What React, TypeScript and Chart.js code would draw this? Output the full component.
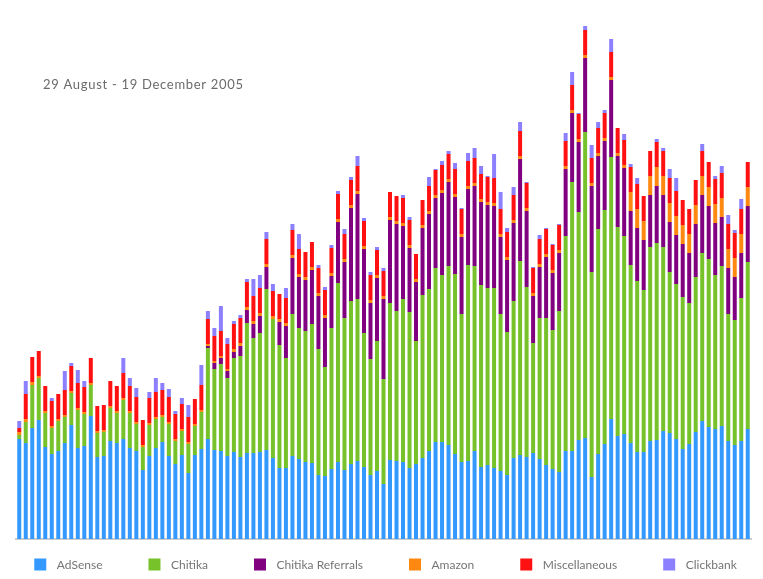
import React, { useEffect, useRef } from "react";
import { Chart, registerables } from "chart.js";

Chart.register(...registerables);

const title = "29 August - 19 December 2005";

const monthNames = ["Jan", "Feb", "Mar", "Apr", "May", "Jun", "Jul", "Aug", "Sep", "Oct", "Nov", "Dec"];
const days: string[] = [];
for (let d = new Date(2005, 7, 29); d <= new Date(2005, 11, 19); d.setDate(d.getDate() + 1)) {
  days.push(d.getDate() + " " + monthNames[d.getMonth()]);
}

const seriesNames = ["AdSense", "Chitika", "Chitika Referrals", "Amazon", "Miscellaneous", "Clickbank"];
const seriesColors = ["#3399ff", "#77c22a", "#800080", "#ff8811", "#ff1111", "#8c80ff"];

const adsense = [
  100, 96, 111, 119, 92, 85, 88, 96, 114, 91,
  93, 123, 82, 83, 98, 96, 100, 91, 88, 69,
  83, 91, 97, 83, 75, 84, 66, 84, 90, 100,
  89, 88, 83, 87, 82, 86, 86, 87, 89, 81,
  71, 71, 83, 80, 77, 76, 64, 63, 70, 77,
  69, 75, 78, 72, 64, 68, 55, 79, 78, 77,
  71, 75, 81, 88, 97, 97, 94, 85, 77, 78,
  88, 72, 74, 71, 68, 64, 81, 84, 82, 86,
  80, 74, 70, 67, 88, 88, 99, 101, 62, 85,
  95, 120, 103, 105, 96, 87, 87, 98, 99, 108,
  106, 100, 90, 95, 107, 118, 112, 110, 113, 98,
  94, 98, 110,
];

const chitika = [
  4, 21, 43, 42, 34, 26, 30, 26, 32, 38,
  32, 31, 24, 24, 33, 30, 39, 35, 27, 23,
  31, 29, 25, 32, 23, 24, 29, 29, 37, 91,
  81, 87, 78, 94, 101, 130, 115, 119, 161, 139,
  123, 110, 142, 131, 131, 139, 126, 109, 141, 179,
  152, 163, 162, 134, 116, 130, 105, 157, 150, 163,
  156, 123, 163, 162, 174, 167, 179, 180, 148, 196,
  185, 182, 177, 180, 157, 143, 157, 194, 170, 110,
  141, 147, 139, 161, 215, 269, 228, 306, 205, 225,
  234, 262, 209, 198, 178, 171, 162, 194, 197, 184,
  161, 155, 152, 141, 155, 168, 168, 154, 160, 127,
  125, 143, 167,
];

const referrals = [
  0, 0, 0, 0, 0, 0, 0, 0, 0, 0,
  0, 0, 0, 0, 0, 0, 0, 0, 0, 0,
  0, 0, 0, 0, 0, 0, 0, 0, 0, 2,
  6, 6, 7, 6, 10, 13, 14, 17, 22, 0,
  23, 32, 56, 51, 51, 54, 53, 49, 52, 61,
  56, 93, 105, 84, 56, 63, 80, 83, 87, 73,
  64, 59, 67, 75, 70, 82, 84, 77, 77, 76,
  80, 83, 83, 82, 77, 72, 78, 102, 76, 47,
  51, 61, 57, 58, 67, 69, 70, 74, 86, 73,
  69, 77, 71, 68, 54, 53, 50, 52, 57, 52,
  50, 49, 53, 50, 53, 58, 53, 52, 49, 46,
  43, 45, 56,
];

const amazon = [
  3, 3, 3, 2, 2, 2, 2, 2, 2, 2,
  2, 2, 2, 2, 2, 2, 2, 2, 2, 2,
  2, 2, 2, 2, 2, 2, 2, 2, 2, 2,
  2, 2, 2, 3, 3, 3, 3, 3, 3, 3,
  3, 3, 3, 3, 3, 3, 3, 3, 3, 3,
  3, 3, 3, 3, 3, 3, 3, 3, 3, 3,
  3, 3, 3, 3, 3, 3, 3, 3, 3, 3,
  3, 3, 3, 3, 3, 3, 3, 3, 3, 3,
  3, 3, 3, 3, 3, 3, 3, 3, 3, 3,
  3, 3, 3, 3, 19, 19, 19, 19, 19, 19,
  19, 19, 19, 19, 19, 19, 19, 19, 19, 19,
  19, 19, 19,
];

const misc = [
  4, 25, 25, 25, 25, 25, 25, 25, 25, 25,
  25, 25, 25, 25, 25, 25, 25, 25, 25, 25,
  25, 25, 25, 25, 25, 25, 25, 25, 25, 25,
  25, 25, 25, 25, 25, 25, 25, 25, 25, 25,
  25, 25, 25, 25, 25, 25, 25, 25, 25, 25,
  25, 25, 25, 25, 25, 25, 25, 25, 25, 25,
  25, 25, 25, 25, 25, 25, 25, 25, 25, 25,
  25, 25, 25, 25, 25, 25, 25, 25, 25, 25,
  25, 25, 25, 25, 25, 25, 25, 25, 25, 25,
  25, 25, 25, 25, 25, 25, 25, 25, 25, 25,
  25, 25, 25, 25, 25, 25, 25, 25, 25, 25,
  25, 25, 25,
];

const clickbank = [
  7, 13, 0, 0, 0, 3, 0, 19, 3, 13,
  6, 0, 0, 0, 0, 0, 15, 8, 9, 0,
  6, 14, 7, 8, 3, 6, 12, 0, 20, 8,
  8, 25, 6, 3, 3, 3, 17, 13, 7, 7,
  0, 10, 6, 15, 0, 0, 3, 3, 3, 3,
  5, 3, 10, 3, 3, 3, 3, 0, 0, 3,
  3, 0, 0, 9, 1, 4, 3, 6, 1, 8,
  10, 8, 1, 24, 17, 4, 8, 9, 1, 1,
  4, 1, 1, 1, 8, 13, 1, 4, 13, 6,
  3, 13, 0, 6, 3, 6, 0, 0, 3, 3,
  9, 13, 0, 0, 0, 7, 0, 3, 7, 9,
  3, 10, 0,
];

const seriesValues = [adsense, chitika, referrals, amazon, misc, clickbank];

// title and legend drawn by hand so they sit where the original puts them
const textPlugin = {
  id: "textPlugin",
  afterDraw(chart: any) {
    const { ctx, chartArea } = chart;
    ctx.save();
    ctx.textBaseline = "alphabetic";
    ctx.textAlign = "left";

    ctx.font = "13px Lato";
    ctx.letterSpacing = "0.7px";
    ctx.fillStyle = "#6b6b6b";
    ctx.fillText(title, 43, 88.5);

    ctx.font = "12px Lato";
    ctx.letterSpacing = "0px";
    const boxSize = 12;
    const boxGap = 10.5;
    const itemGap = 46;
    const widths = seriesNames.map((n) => ctx.measureText(n).width);
    const total =
      widths.reduce((a, w) => a + w + boxSize + boxGap, 0) + itemGap * (seriesNames.length - 1);
    let x = (chartArea.left + chartArea.right) / 2 + 2 - total / 2;
    seriesNames.forEach((name, i) => {
      ctx.fillStyle = seriesColors[i];
      ctx.fillRect(x, 558.5, boxSize, boxSize);
      ctx.fillStyle = "#757575";
      ctx.fillText(name, x + boxSize + boxGap, 568.7);
      x += boxSize + boxGap + widths[i] + itemGap;
    });
    ctx.restore();
  },
};

const RevenueChart = () => {
  const chartRef = useRef<HTMLCanvasElement>(null);
  const chartInstance = useRef<any>(null);

  useEffect(() => {
    if (!chartRef.current) return;
    const ctx: any = chartRef.current.getContext("2d");
    if (chartInstance.current) chartInstance.current.destroy();

    chartInstance.current = new Chart(ctx, {
      type: "bar",
      data: {
        labels: days,
        datasets: seriesNames.map((name, i) => ({
          label: name,
          data: seriesValues[i],
          backgroundColor: seriesColors[i],
          borderWidth: 0,
          categoryPercentage: 1,
          barPercentage: 0.615,
        })),
      },
      options: {
        animation: false,
        responsive: true,
        maintainAspectRatio: false,
        layout: { padding: { left: 16, right: 12, top: 20, bottom: 40 } },
        plugins: {
          legend: { display: false },
          tooltip: { enabled: false },
        },
        scales: {
          x: {
            stacked: true,
            grid: { display: false, drawTicks: false },
            ticks: { display: false },
            border: { display: true, color: "#cccccc", width: 2 },
          },
          y: {
            stacked: true,
            display: false,
            min: 0,
            max: 519,
          },
        },
      },
      plugins: [textPlugin],
    });

    return () => {
      if (chartInstance.current) {
        chartInstance.current.destroy();
        chartInstance.current = null;
      }
    };
  }, []);

  return (
    <div style={{ position: "absolute", left: 0, top: 0, width: 763, height: 579, background: "#fff" }}>
      <canvas ref={chartRef} />
    </div>
  );
};

export default function App() {
  return <RevenueChart />;
}
